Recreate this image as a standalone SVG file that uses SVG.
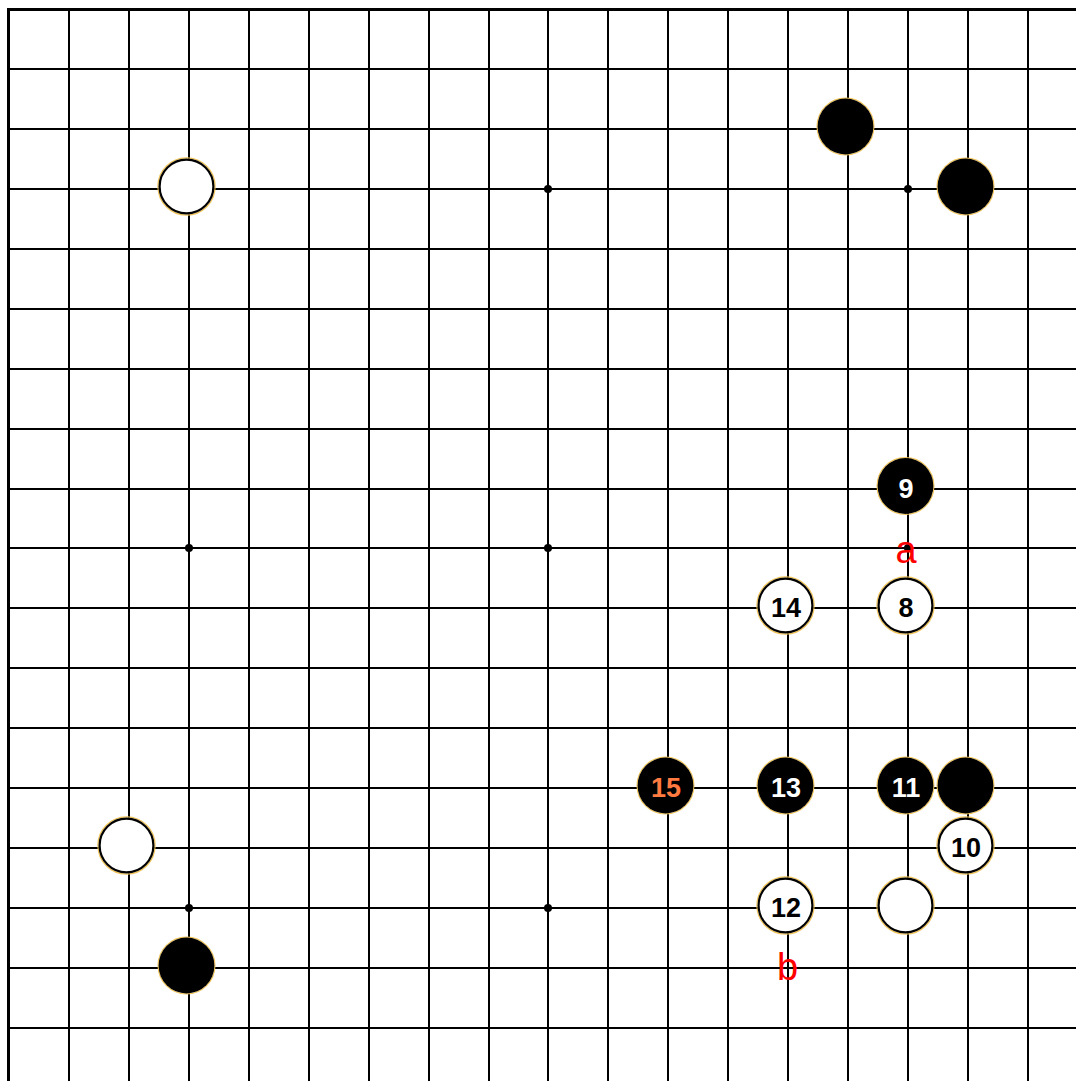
<svg xmlns="http://www.w3.org/2000/svg" width="1076" height="1081" viewBox="0 0 1076 1081">
<style>
.g{stroke:#000;stroke-width:2;fill:none}
.b{stroke:#000;stroke-width:3;fill:none}
.halo{fill:none;stroke:#f0c458;stroke-width:1.2}
.bs{fill:#000}
.ws{fill:#fff;stroke:#000;stroke-width:2.2}
.n{font-family:"Liberation Sans",Arial,sans-serif;font-weight:bold;font-size:27px;text-anchor:middle}
.nw{fill:#fff}
.nb{fill:#000}
.no{fill:#ff7a40}
.lbl{font-family:"Liberation Sans",Arial,sans-serif;font-size:38px;fill:#ff0000;text-anchor:middle}
</style>
<rect x="0" y="0" width="1076" height="1081" fill="#fff"/>
<g id="grid">
<path class="g" d="M69 9V1081M129 9V1081M189 9V1081M249 9V1081M309 9V1081M369 9V1081M429 9V1081M489 9V1081M548 9V1081M608 9V1081M668 9V1081M728 9V1081M788 9V1081M848 9V1081M908 9V1081M968 9V1081M1028 9V1081"/>
<path class="g" d="M8.5 69H1076M8.5 129H1076M8.5 189H1076M8.5 249H1076M8.5 309H1076M8.5 369H1076M8.5 429H1076M8.5 489H1076M8.5 548H1076M8.5 608H1076M8.5 668H1076M8.5 728H1076M8.5 788H1076M8.5 848H1076M8.5 908H1076M8.5 968H1076M8.5 1028H1076"/>
<path class="b" d="M8.5 1081V9.5H1076"/>
</g>
<g id="hoshi" fill="#000">
<circle cx="548" cy="189" r="4"/>
<circle cx="908" cy="189" r="4"/>
<circle cx="189" cy="548" r="4"/>
<circle cx="548" cy="548" r="4"/>
<circle cx="908" cy="548" r="4"/>
<circle cx="189" cy="908" r="4"/>
<circle cx="548" cy="908" r="4"/>
</g>
<g id="w-c3r3"><circle class="halo" cx="186.5" cy="186.5" r="28.6"/><circle class="ws" cx="186.5" cy="186.5" r="26.9"/></g>
<g id="b-c14r2"><circle class="halo" cx="845.5" cy="126.5" r="28.4"/><circle class="bs" cx="845.5" cy="126.5" r="27.9"/></g>
<g id="b-c16r3"><circle class="halo" cx="965.5" cy="186.5" r="28.4"/><circle class="bs" cx="965.5" cy="186.5" r="27.9"/></g>
<g id="b9"><circle class="halo" cx="905.5" cy="486" r="28.4"/><circle class="bs" cx="905.5" cy="486" r="27.9"/><text class="n nw" x="906" y="497.5">9</text></g>
<g id="w14"><circle class="halo" cx="785.5" cy="605.5" r="28.6"/><circle class="ws" cx="785.5" cy="605.5" r="26.9"/><text class="n nb" x="786" y="617">14</text></g>
<g id="w8"><circle class="halo" cx="905.5" cy="605.5" r="28.6"/><circle class="ws" cx="905.5" cy="605.5" r="26.9"/><text class="n nb" x="906" y="617">8</text></g>
<g id="b15"><circle class="halo" cx="665.5" cy="785.5" r="28.4"/><circle class="bs" cx="665.5" cy="785.5" r="27.9"/><text class="n no" x="666" y="797">15</text></g>
<g id="b13"><circle class="halo" cx="785.5" cy="785.5" r="28.4"/><circle class="bs" cx="785.5" cy="785.5" r="27.9"/><text class="n nw" x="786" y="797">13</text></g>
<g id="b11"><circle class="halo" cx="905.5" cy="785.5" r="28.4"/><circle class="bs" cx="905.5" cy="785.5" r="27.9"/><text class="n nw" x="906" y="797">11</text></g>
<g id="b-c16r13"><circle class="halo" cx="965.5" cy="785.5" r="28.4"/><circle class="bs" cx="965.5" cy="785.5" r="27.9"/></g>
<g id="w10"><circle class="halo" cx="965.5" cy="845.5" r="28.6"/><circle class="ws" cx="965.5" cy="845.5" r="26.9"/><text class="n nb" x="966" y="857">10</text></g>
<g id="w-c2r14"><circle class="halo" cx="126.5" cy="845.5" r="28.6"/><circle class="ws" cx="126.5" cy="845.5" r="26.9"/></g>
<g id="w12"><circle class="halo" cx="785.5" cy="905.5" r="28.6"/><circle class="ws" cx="785.5" cy="905.5" r="26.9"/><text class="n nb" x="786" y="917">12</text></g>
<g id="w-c15r15"><circle class="halo" cx="905.5" cy="905.5" r="28.6"/><circle class="ws" cx="905.5" cy="905.5" r="26.9"/></g>
<g id="b-c3r16"><circle class="halo" cx="186.5" cy="965.5" r="28.4"/><circle class="bs" cx="186.5" cy="965.5" r="27.9"/></g>
<g id="labels">
<text class="lbl" x="906" y="563">a</text>
<text class="lbl" x="787.5" y="980">b</text>
</g>
</svg>
